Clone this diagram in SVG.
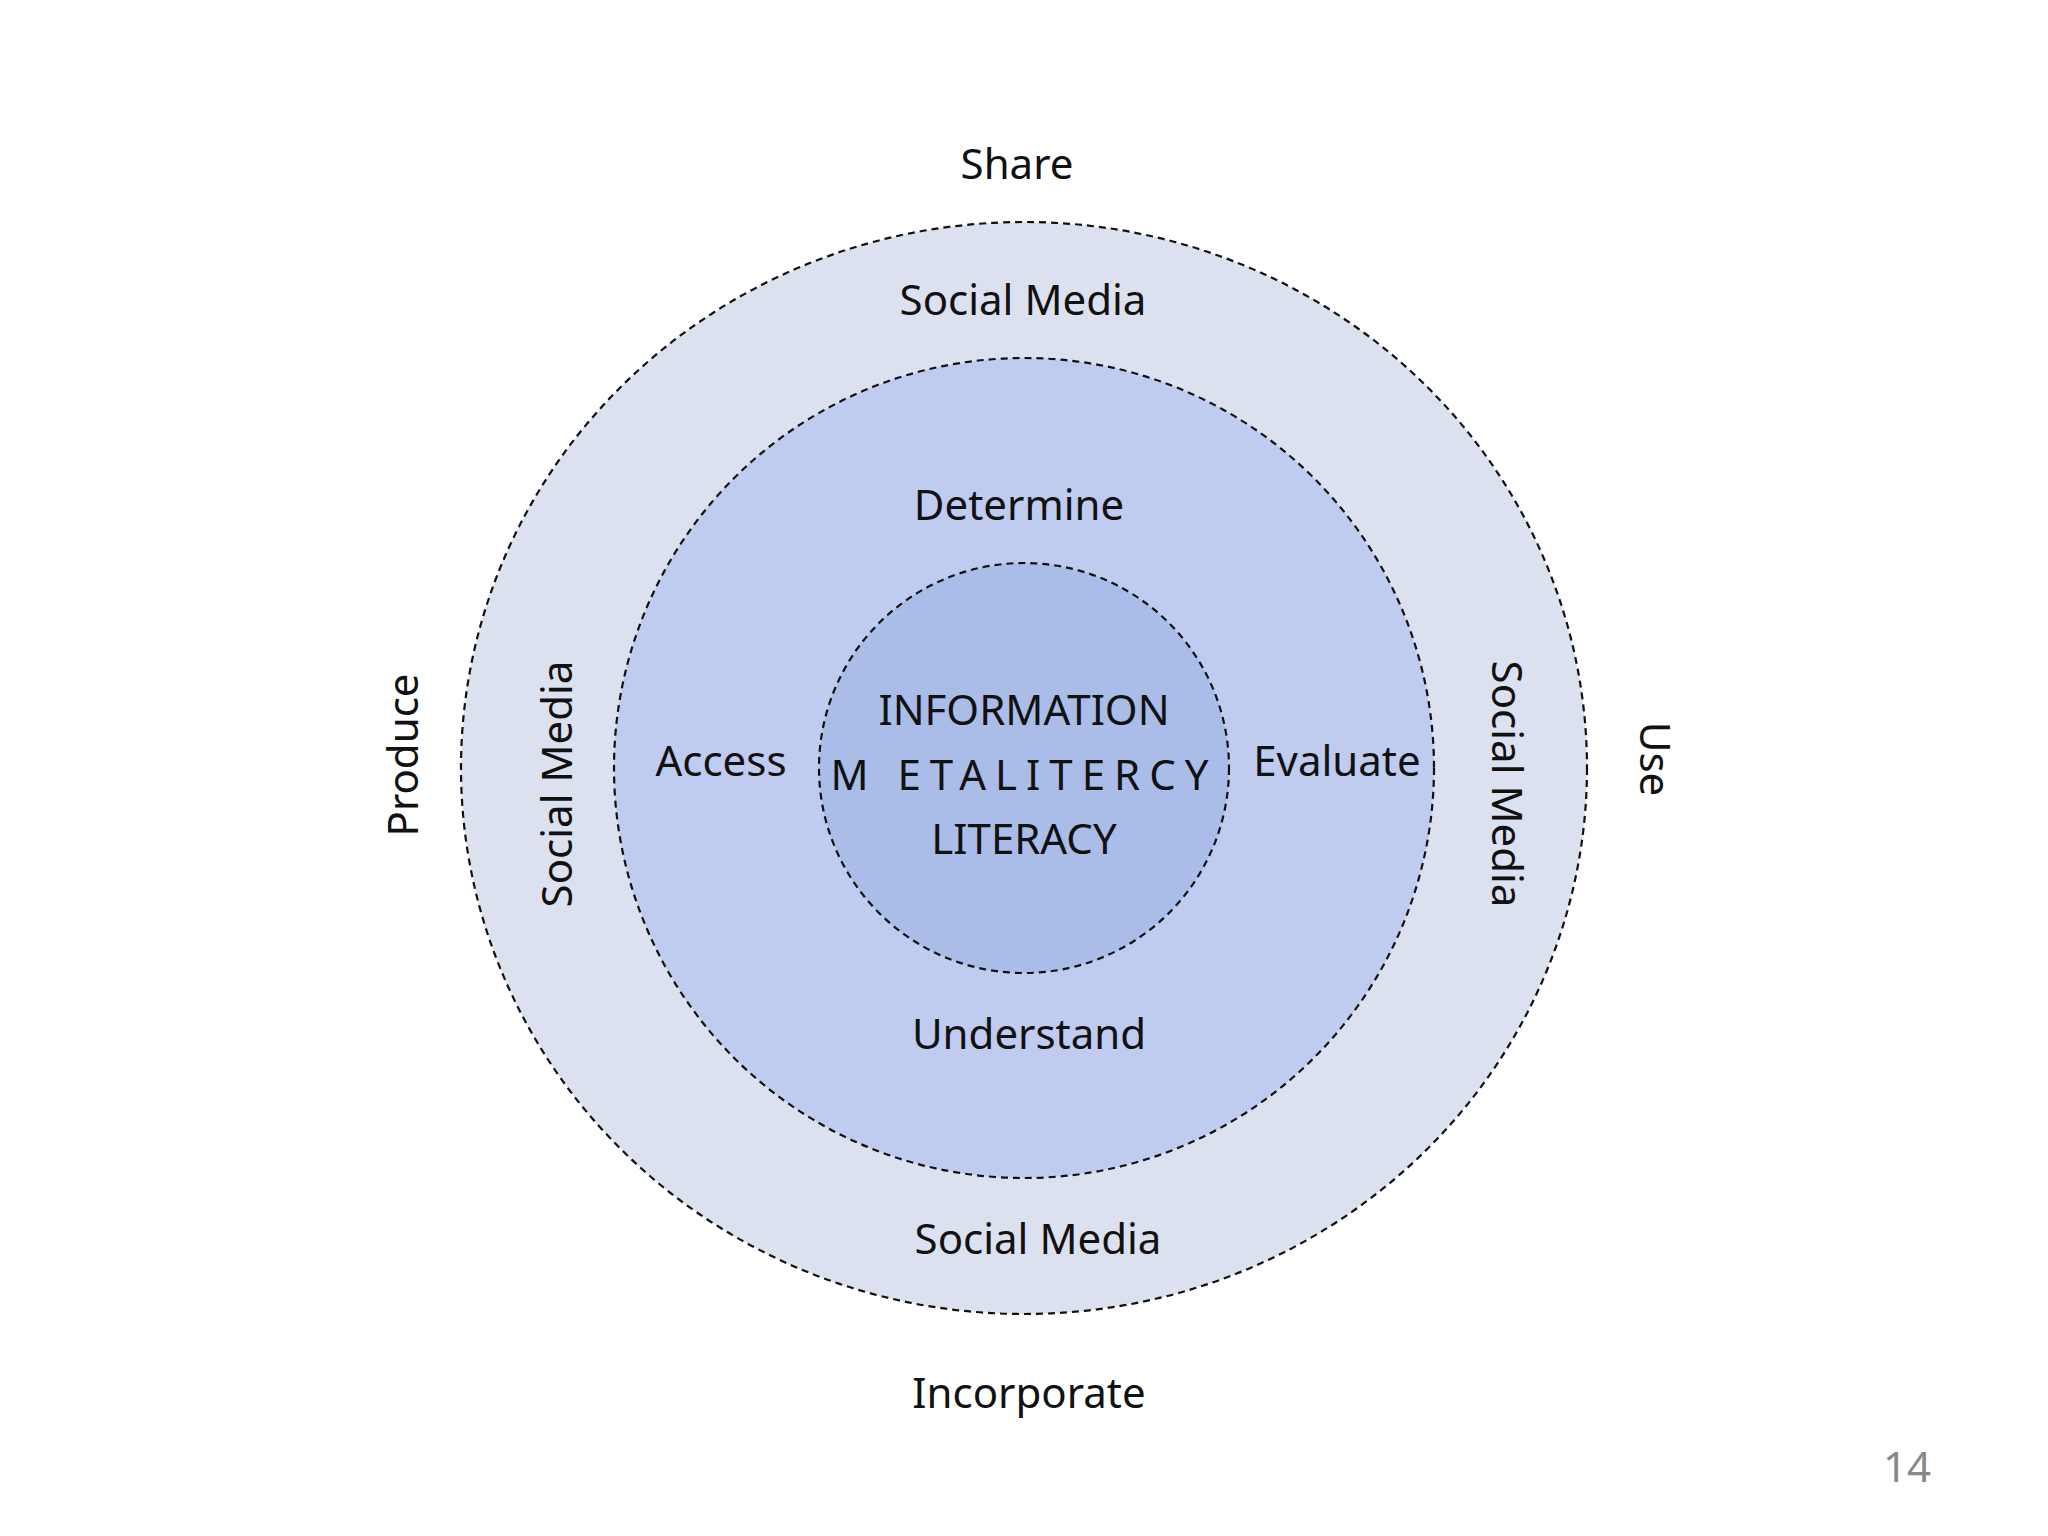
<svg xmlns="http://www.w3.org/2000/svg" width="2048" height="1536" viewBox="0 0 2048 1536">
<style>
.r{stroke:#111;stroke-width:2.2;stroke-dasharray:7 5}
text{font-family:"Noto Sans","Open Sans",sans-serif;font-size:42px;fill:#111;text-anchor:middle;dominant-baseline:central}
</style>
<rect width="2048" height="1536" fill="#fff"/>
<g id="outer"><ellipse class="r" cx="1024" cy="768" rx="563" ry="546" fill="#DCE1F0"/></g>
<g id="middle"><circle class="r" cx="1024" cy="768" r="410" fill="#BFCCEF"/></g>
<g id="inner"><circle class="r" cx="1024" cy="768" r="205" fill="#A9BDE8"/></g>
<g id="labels">
<text x="1017" y="162">Share</text>
<text x="1023" y="298">Social Media</text>
<text x="1019" y="503">Determine</text>
<text x="1024" y="708">INFORMATION</text>
<text x="1024" y="773" font-size="38" letter-spacing="9">M ETALITERCY</text>
<text x="1024" y="837">LITERACY</text>
<text x="721" y="759">Access</text>
<text x="1337" y="759">Evaluate</text>
<text x="1029" y="1032">Understand</text>
<text x="1038" y="1237">Social Media</text>
<text x="1029" y="1391">Incorporate</text>
<text transform="translate(401,755) rotate(-90)">Produce</text>
<text transform="translate(555,784) rotate(-90)">Social Media</text>
<text transform="translate(1508,784) rotate(90)">Social Media</text>
<text transform="translate(1656,759) rotate(90)">Use</text>
<text x="1907" y="1465" font-size="26" fill="#888" style="fill:#888">14</text>
</g>
</svg>
